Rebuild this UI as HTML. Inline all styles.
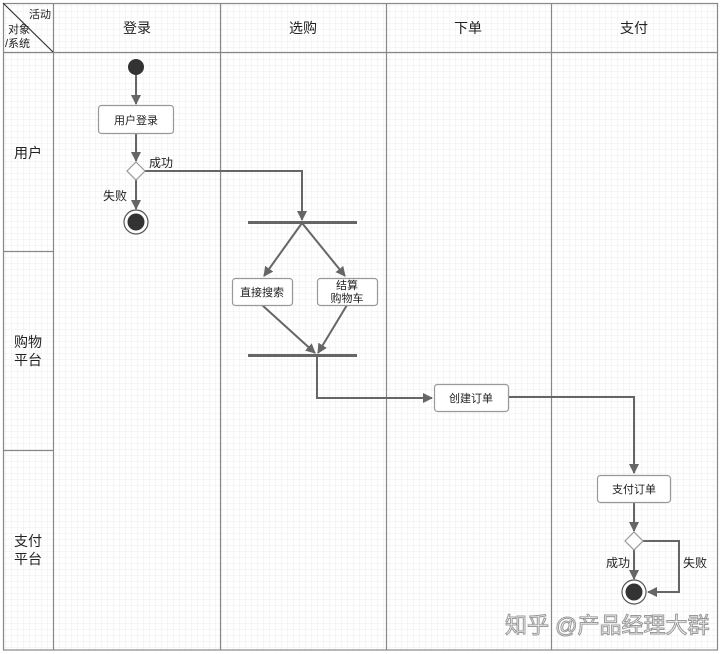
<!DOCTYPE html>
<html><head><meta charset="utf-8"><style>
html,body{margin:0;padding:0;background:#fff}
svg{display:block}
text{font-family:"Liberation Sans","Noto Sans CJK SC",sans-serif;fill:#222}
</style></head><body>
<svg width="720" height="654" viewBox="0 0 720 654" xmlns="http://www.w3.org/2000/svg">
<defs>
<pattern id="g" width="6" height="6" patternUnits="userSpaceOnUse">
<path d="M6 0V6H0" fill="none" stroke="#ececec" stroke-width="1"/>
</pattern>
<marker id="a" markerWidth="10" markerHeight="10" refX="9" refY="5" orient="auto" markerUnits="userSpaceOnUse">
<path d="M0,0 L10,5 L0,10 z" fill="#666"/>
</marker>
</defs>
<rect x="0" y="0" width="720" height="654" fill="#fff"/>
<rect x="3" y="3" width="715" height="647" fill="url(#g)"/>
<g stroke="#888" stroke-width="1.2" fill="none">
<rect x="3.5" y="3.5" width="714" height="646.5"/>
<line x1="3" y1="52.5" x2="718" y2="52.5"/>
<line x1="3" y1="251.5" x2="53" y2="251.5"/>
<line x1="3" y1="450.5" x2="53" y2="450.5"/>
<line x1="53.5" y1="3" x2="53.5" y2="650"/>
<line x1="220.5" y1="3" x2="220.5" y2="650"/>
<line x1="386.5" y1="3" x2="386.5" y2="650"/>
<line x1="551.5" y1="3" x2="551.5" y2="650"/>
<line x1="3" y1="3" x2="53" y2="52" stroke="#333"/>
</g>
<g font-size="11">
<text x="29" y="18">活动</text>
<text x="8" y="33">对象</text>
<text x="5" y="47">/系统</text>
</g>
<g font-size="14" text-anchor="middle">
<text x="137" y="33">登录</text>
<text x="303" y="33">选购</text>
<text x="468" y="33">下单</text>
<text x="634" y="33">支付</text>
<text x="28" y="158">用户</text>
<text x="28" y="347">购物</text>
<text x="28" y="365">平台</text>
<text x="28" y="546">支付</text>
<text x="28" y="564">平台</text>
</g>
<g stroke="#666" stroke-width="2" fill="none">
<line x1="136" y1="75" x2="136" y2="104" marker-end="url(#a)"/>
<line x1="136" y1="133" x2="136" y2="161" marker-end="url(#a)"/>
<polyline points="145,171 302,171 302,220" marker-end="url(#a)"/>
<line x1="136" y1="180" x2="136" y2="209" marker-end="url(#a)"/>
<line x1="302" y1="223" x2="264" y2="276" marker-end="url(#a)"/>
<line x1="302" y1="223" x2="345" y2="276" marker-end="url(#a)"/>
<line x1="262" y1="305" x2="315" y2="353" marker-end="url(#a)"/>
<line x1="347" y1="305" x2="318" y2="353" marker-end="url(#a)"/>
<polyline points="317,355 317,398 432,398" marker-end="url(#a)"/>
<polyline points="508,397 634,397 634,473" marker-end="url(#a)"/>
<line x1="634" y1="502" x2="634" y2="531" marker-end="url(#a)"/>
<line x1="634" y1="550" x2="634" y2="579" marker-end="url(#a)"/>
<polyline points="643,541 679,541 679,592 648,592" marker-end="url(#a)"/>
</g>
<g fill="#666">
<rect x="248" y="221" width="109" height="3"/>
<rect x="248" y="354" width="109" height="3"/>
</g>
<circle cx="136" cy="67" r="8" fill="#333"/>
<circle cx="136" cy="222" r="12" fill="#fff" stroke="#555" stroke-width="1.2"/>
<circle cx="136" cy="222" r="8.5" fill="#333"/>
<circle cx="634" cy="592" r="12" fill="#fff" stroke="#555" stroke-width="1.2"/>
<circle cx="634" cy="592" r="8.5" fill="#333"/>
<g fill="#fff" stroke="#999" stroke-width="1.2">
<polygon points="136,162 145,171 136,180 127,171"/>
<polygon points="634,532 643,541 634,550 625,541"/>
<rect x="98.5" y="105.5" width="75" height="28" rx="3"/>
<rect x="232.5" y="278.5" width="60" height="27" rx="3"/>
<rect x="317.5" y="278.5" width="60" height="27" rx="3"/>
<rect x="434.5" y="384.5" width="74" height="27" rx="3"/>
<rect x="597.5" y="475.5" width="73" height="27" rx="3"/>
</g>
<g font-size="11" text-anchor="middle">
<text x="136" y="124">用户登录</text>
<text x="262" y="296">直接搜索</text>
<text x="347" y="289">结算</text>
<text x="347" y="302">购物车</text>
<text x="471" y="402">创建订单</text>
<text x="634" y="493">支付订单</text>
</g>
<g font-size="12">
<text x="149" y="167">成功</text>
<text x="103" y="200">失败</text>
<text x="606" y="567">成功</text>
<text x="683" y="567">失败</text>
</g>
<text x="505" y="633" font-size="22" fill="#fff" stroke="#999" stroke-width="1" style="fill:#fff">知乎 @产品经理大群</text>
</svg>
</body></html>
